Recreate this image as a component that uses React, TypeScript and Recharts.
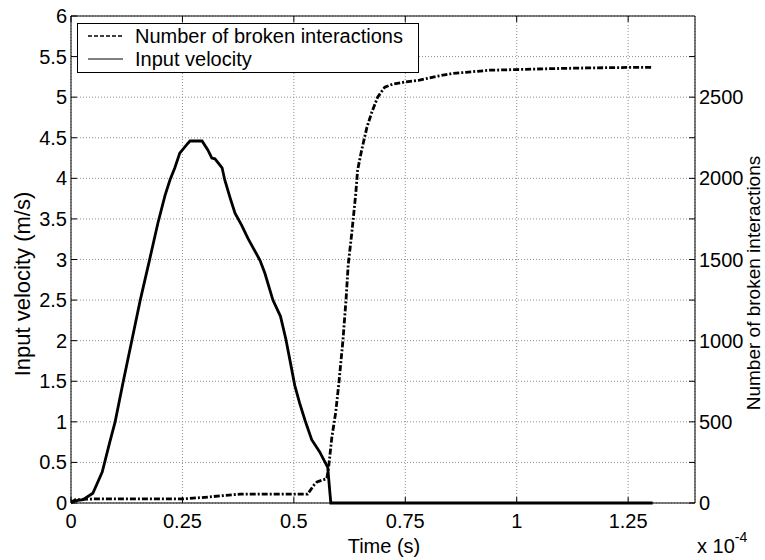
import React from "react";
import { CartesianGrid, Line, LineChart, ReferenceLine, XAxis, YAxis } from "recharts";

// time in units of 1e-4 s
const velocityTime = [
  0, 0.027, 0.049, 0.07, 0.087, 0.099, 0.117, 0.136, 0.155, 0.176, 0.195, 0.211, 0.222, 0.233, 0.244, 0.262,
  0.267, 0.294, 0.307, 0.316, 0.323, 0.339, 0.345, 0.357, 0.368, 0.383, 0.397, 0.424, 0.435, 0.453, 0.47,
  0.482, 0.494, 0.502, 0.513, 0.525, 0.54, 0.558, 0.576, 0.581, 0.583, 0.7, 1.0, 1.305,
];
const velocity = [
  0.02, 0.04, 0.12, 0.38, 0.75, 1.0, 1.49, 1.99, 2.49, 2.99, 3.45, 3.79, 3.98, 4.13, 4.31, 4.43, 4.46, 4.46,
  4.35, 4.25, 4.24, 4.13, 3.98, 3.76, 3.57, 3.42, 3.26, 2.99, 2.83, 2.5, 2.3, 2.02, 1.68, 1.45, 1.23, 1.02,
  0.78, 0.63, 0.44, 0.12, 0, 0, 0, 0,
];

const brokenTime = [
  0, 0.01, 0.05, 0.25, 0.3, 0.34, 0.38, 0.531, 0.545, 0.552, 0.574, 0.578, 0.585, 0.594, 0.601, 0.61, 0.617,
  0.622, 0.63, 0.639, 0.643, 0.652, 0.664, 0.675, 0.688, 0.704, 0.722, 0.749, 0.782, 0.823, 0.856, 0.939, 1.0,
  1.081, 1.157, 1.247, 1.305,
];
const broken = [
  0, 20, 25, 25, 35, 45, 55, 55, 110, 130, 150, 220, 400, 560, 739, 998, 1250, 1470, 1663, 1909, 2050, 2173,
  2315, 2408, 2500, 2562, 2580, 2593, 2605, 2630, 2646, 2666, 2670, 2676, 2680, 2683, 2683,
];

const xTicks = [0, 0.25, 0.5, 0.75, 1, 1.25];
const leftTicks = [0, 0.5, 1, 1.5, 2, 2.5, 3, 3.5, 4, 4.5, 5, 5.5, 6];
const rightTicks = [0, 250, 500, 750, 1000, 1250, 1500, 1750, 2000, 2250, 2500, 2750];

const velocityData = velocityTime.map((t, i) => ({ t, v: velocity[i] }));
const brokenData = brokenTime.map((t, i) => ({ t, n: broken[i] }));

const W = 765;
const H = 560;
const PL = 71;
const PR = 695;
const PT = 16;
const PB = 503;
const FONT = "'Liberation Sans', Arial, sans-serif";
const FS = 20;

const LeftTick = ({ y, payload }: any) => (
  <g>
    <line x1={PL} x2={PL + 6} y1={y} y2={y} stroke="#000" />
    <text x={PL - 4} y={y} textAnchor="end" dominantBaseline="central" fontSize={FS} fontFamily={FONT} fill="#000">
      {payload.value}
    </text>
  </g>
);

const RightTick = ({ y, payload }: any) => (
  <g>
    <line x1={PR - 6} x2={PR} y1={y} y2={y} stroke="#000" />
    {payload.value % 500 === 0 && (
      <text x={PR + 4} y={y} textAnchor="start" dominantBaseline="central" fontSize={FS} fontFamily={FONT} fill="#000">
        {payload.value}
      </text>
    )}
  </g>
);

const BottomTick = ({ x, payload }: any) => (
  <g>
    <line x1={x} x2={x} y1={PB} y2={PB - 6} stroke="#000" />
    <line x1={x} x2={x} y1={PT} y2={PT + 6} stroke="#000" />
    <text x={x} y={PB + 18} textAnchor="middle" dominantBaseline="central" fontSize={FS} fontFamily={FONT} fill="#000">
      {payload.value}
    </text>
  </g>
);

export default function App() {
  return (
    <div style={{ position: "absolute", left: 0, top: 0, width: W, height: H, background: "#fff" }}>
      <LineChart width={W} height={H} margin={{ top: PT, right: 20, bottom: 27, left: 20 }}>
        <CartesianGrid yAxisId="left" stroke="#8f8f8f" strokeDasharray="1 2" />
        <XAxis
          dataKey="t"
          type="number"
          domain={[0, 1.4]}
          ticks={xTicks}
          height={30}
          tick={<BottomTick />}
          tickLine={false}
          axisLine={{ stroke: "#000" }}
          allowDataOverflow
        />
        <YAxis
          yAxisId="left"
          domain={[0, 6]}
          ticks={leftTicks}
          width={51}
          tick={<LeftTick />}
          tickLine={false}
          axisLine={{ stroke: "#000" }}
        />
        <YAxis
          yAxisId="right"
          orientation="right"
          domain={[0, 3000]}
          ticks={rightTicks}
          width={50}
          tick={<RightTick />}
          tickLine={false}
          axisLine={{ stroke: "#000" }}
        />
        <ReferenceLine yAxisId="left" y={6} stroke="#000" />
        <Line
          yAxisId="left"
          data={velocityData}
          dataKey="v"
          type="linear"
          stroke="#000"
          strokeWidth={2.8}
          dot={false}
          isAnimationActive={false}
        />
        <Line
          yAxisId="right"
          data={brokenData}
          dataKey="n"
          type="linear"
          stroke="#000"
          strokeWidth={2.8}
          strokeDasharray="6 2 2 2"
          dot={false}
          isAnimationActive={false}
        />
      </LineChart>

      <svg
        style={{ position: "absolute", left: 0, top: 0, pointerEvents: "none" }}
        width={W}
        height={H}
        fontFamily={FONT}
        fill="#000"
      >
        <rect x={77.5} y={23.5} width={341} height={49} fill="#fff" stroke="#000" />
        <line x1={88} x2={123} y1={36} y2={36} stroke="#000" strokeWidth={1.3} strokeDasharray="4 2" />
        <line x1={88} x2={123} y1={59} y2={59} stroke="#000" strokeWidth={1} />
        <text x={135} y={36} dominantBaseline="central" fontSize={FS}>
          Number of broken interactions
        </text>
        <text x={135} y={59} dominantBaseline="central" fontSize={FS}>
          Input velocity
        </text>

        <text x={384} y={546} textAnchor="middle" dominantBaseline="central" fontSize={FS}>
          Time (s)
        </text>
        <text x={697} y={553} fontSize={FS}>
          x 10
          <tspan dy={-11} fontSize={14}>
            -4
          </tspan>
        </text>
        <text
          x={22}
          y={284}
          textAnchor="middle"
          dominantBaseline="central"
          fontSize={22}
          transform="rotate(-90 22 284)"
        >
          Input velocity (m/s)
        </text>
        <text
          x={753}
          y={283}
          textAnchor="middle"
          dominantBaseline="central"
          fontSize={19}
          transform="rotate(-90 753 283)"
        >
          Number of broken interactions
        </text>
      </svg>
    </div>
  );
}
